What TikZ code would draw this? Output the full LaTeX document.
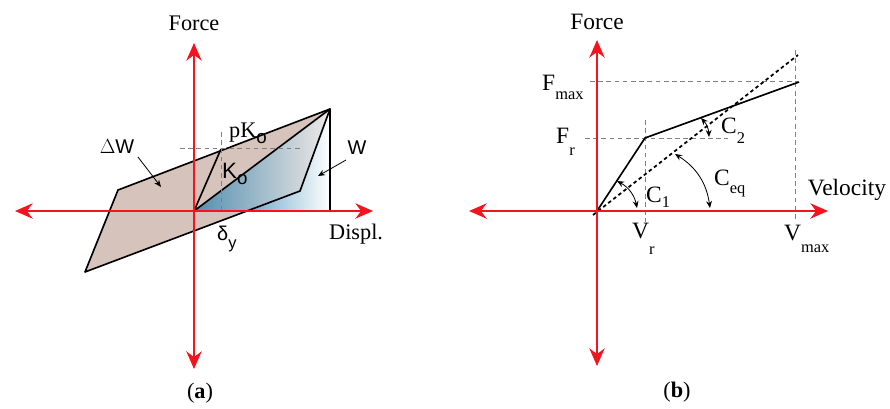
\documentclass[tikz,border=0pt]{standalone}
\usepackage{fontspec}
\setmainfont{Liberation Serif}
\setsansfont{Liberation Sans}
\usetikzlibrary{arrows.meta}
\definecolor{axisred}{RGB}{245,20,30}
\definecolor{loopfill}{RGB}{214,196,188}
\definecolor{workblue}{RGB}{15,115,170}
\newcommand{\lsub}[2][0.4em]{\raisebox{-#1}{\fontsize{14}{15}\selectfont #2}}

\begin{document}
\begin{tikzpicture}[x=0.03cm, y=-0.03cm,
    axis/.style={axisred, line width=2pt,
      {Stealth[length=15pt,width=13pt]}-{Stealth[length=15pt,width=13pt]}},
    edge/.style={black, line width=1.4pt, line join=round},
    guide/.style={gray, line width=0.6pt, dash pattern=on 4pt off 3pt},
    pointer/.style={black, line width=0.7pt, -{Stealth[length=6pt,width=5pt]}},
    turn/.style={black, line width=0.7pt,
      {Stealth[length=6pt,width=5pt]}-{Stealth[length=6pt,width=5pt]}},
    lbla/.style={font=\fontsize{19}{22}\selectfont, inner sep=0pt},
    lblsf/.style={font=\sffamily\fontsize{17}{20}\selectfont, inner sep=0pt},
    lblb/.style={font=\fontsize{20}{23}\selectfont, inner sep=0pt}]
  \useasboundingbox (0,0) rectangle (890,408);

  % (a) hysteresis loop
  \coordinate (oa) at (194,211);
  \coordinate (pa1) at (85,272);
  \coordinate (pa2) at (118,190);
  \coordinate (pa3) at (330,109);
  \coordinate (pa4) at (300,191);
  \coordinate (qa) at (246,211);
  \coordinate (ky) at (221,149);
  \coordinate (tb) at (330,211);
  \shade[left color=workblue, right color=white] (oa) -- (pa3) -- (tb) -- cycle;
  \fill[loopfill, fill opacity=0.35] (oa) -- (pa3) -- (pa4) -- (qa) -- cycle;
  \fill[loopfill] (pa1) -- (pa2) -- (pa3) -- (oa) -- (qa) -- cycle;
  \draw[edge] (pa1) -- (pa2) -- (pa3) -- (pa4) -- cycle;
  \draw[edge] (oa) -- (pa3) -- (tb) -- (oa) -- (ky);
  \draw[guide] (180,148) -- (300,148);
  \draw[guide] (221,132) -- (221,211);

  % (a) axes
  \coordinate (axl) at (15,211);
  \coordinate (axr) at (373,211);
  \coordinate (ayt) at (194,43);
  \coordinate (ayb) at (194,369);
  \draw[axis] (axl) -- (axr);
  \draw[axis] (ayt) -- (ayb);

  % (a) labels
  \node[lbla] (forcea) at (194,23) {Force};
  \node[lbla, anchor=base west] (displ) at (329,239) {Displ.};
  \node[lblsf] (dW) at (117,147) {$\Delta$W};
  \node[lblsf] (W) at (357,148) {W};
  \node[lbla, anchor=base west] (pK) at (229,137) {pK\lsub[0.3em]{\sffamily\fontsize{16}{17}\selectfont o}};
  \node[lblsf, font=\sffamily\fontsize{19}{22}\selectfont, anchor=base west] (Ko) at (222,178) {K\lsub[0.3em]{\fontsize{16}{17}\selectfont o}};
  \node[lblsf, anchor=base west] (dy) at (217,240) {δ\lsub[0.45em]{y}};
  \coordinate (dWtip) at (161,187);
  \coordinate (Wtip) at (318,176);
  \draw[pointer] (138,157) -- (dWtip);
  \draw[pointer] (346,160) -- (Wtip);

  % (b) bilinear damper law
  \coordinate (ob) at (597,211);
  \coordinate (yb) at (645,138);
  \coordinate (eb) at (799,82);
  \coordinate (ds) at (593,215);
  \coordinate (de) at (798,55);
  \draw[guide] (590,81) -- (798,81);
  \draw[guide] (585,138) -- (728,138);
  \draw[guide] (645,120) -- (645,222);
  \draw[guide] (795,50) -- (795,222);
  \draw[black, line width=1.5pt, dash pattern=on 3pt off 2.5pt] (ds) -- (de);
  \draw[edge] (ob) -- (yb) -- (eb);

  % (b) axes
  \coordinate (bxl) at (469,211);
  \coordinate (bxr) at (828,211);
  \coordinate (byt) at (597,40);
  \coordinate (byb) at (597,366);
  \draw[axis] (bxl) -- (bxr);
  \draw[axis] (byt) -- (byb);

  % (b) angle marks
  \coordinate (c1a) at (617,181);
  \coordinate (c1b) at (637,208);
  \coordinate (cqa) at (675,154);
  \coordinate (cqb) at (710,208);
  \coordinate (c2a) at (701,118);
  \coordinate (c2b) at (709,137);
  \draw[turn] (c1a) to[bend left=25] (c1b);
  \draw[turn] (cqa) to[bend left=25] (cqb);
  \draw[turn] (c2a) to[bend left=20] (c2b);

  % (b) labels
  \node[lblb] (forceb) at (597,22) {Force};
  \node[lblb] (velocity) at (847,190) {Velocity};
  \node[lblb, anchor=base west] (Fmax) at (542,90) {F\lsub[0.4em]{max}};
  \node[lblb, anchor=base west] (Fr) at (556,143) {F\lsub[0.55em]{r}};
  \node[lblb, anchor=base west] (Vr) at (632,238) {V\lsub[0.7em]{r}};
  \node[lblb, anchor=base west] (Vmax) at (784,240) {V\lsub[0.55em]{max}};
  \node[lblb, anchor=base west] (C1) at (646,202) {C\lsub[0.25em]{1}};
  \node[lblb, anchor=base west] (C2) at (721,133) {C\lsub[0.45em]{2}};
  \node[lblb, anchor=base west] (Ceq) at (714,185) {C\lsub[0.35em]{eq}};

  % captions
  \node[font=\fontsize{19}{22}\selectfont] (capa) at (200,393) {(\textbf{a})};
  \node[font=\fontsize{19}{22}\selectfont] (capb) at (677,392) {(\textbf{b})};
\end{tikzpicture}
\end{document}
